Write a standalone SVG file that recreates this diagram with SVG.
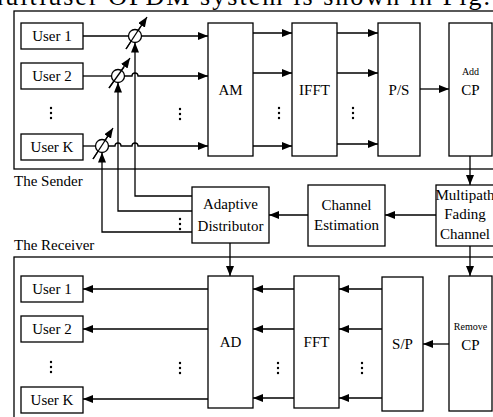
<svg xmlns="http://www.w3.org/2000/svg" width="493" height="417" viewBox="0 0 493 417" font-family="'Liberation Serif', 'Times New Roman', serif">
  <defs>
    <marker id="arr" viewBox="0 0 10 8" refX="10" refY="4" markerWidth="10" markerHeight="8" markerUnits="userSpaceOnUse" orient="auto">
      <path d="M0,0 L10,4 L0,8 Z" fill="#000"/>
    </marker>
    <g id="vdots">
      <circle cx="0" cy="0" r="1.2"/>
      <circle cx="0" cy="5" r="1.2"/>
      <circle cx="0" cy="10" r="1.2"/>
    </g>
  </defs>
  <style>
    .box { fill: #fff; stroke: #000; stroke-width: 1.3; }
    .frame { fill: none; stroke: #000; stroke-width: 1.3; }
    .ln { fill: none; stroke: #000; stroke-width: 1.3; }
    .ar { fill: none; stroke: #000; stroke-width: 1.3; marker-end: url(#arr); }
    text { font-family: 'Liberation Serif', 'Times New Roman', serif; fill: #000; }
    .lbl { font-size: 15px; text-anchor: middle; }
    .sm { font-size: 10px; text-anchor: middle; }
    .cap { font-size: 15px; }
    .run { font-size: 26px; }
  </style>

  <rect width="493" height="417" fill="#fff"/>

  <!-- running text line above the figure, mostly outside the frame -->
  <text class="run" x="-17" y="5" textLength="507" lengthAdjust="spacing">multiuser OFDM system is shown in Fig.</text>

  <!-- section frames -->
  <rect class="frame" x="14" y="11" width="500" height="158"/>
  <text class="cap" x="14" y="186">The Sender</text>
  <rect class="frame" x="14" y="257" width="500" height="180"/>
  <text class="cap" x="14" y="250">The Receiver</text>

  <!-- connectors -->
  <g id="connectors">
    <!-- sender user lines into AM (with hops over the control lines) -->
    <line class="ln" x1="83" y1="36" x2="128.5" y2="36"/>
    <line class="ar" x1="141.5" y1="36" x2="208" y2="36"/>
    <line class="ln" x1="83" y1="76" x2="111.5" y2="76"/>
    <path class="ar" d="M124.5,76 H132 A3,3 0 0 1 138,76 H208"/>
    <line class="ln" x1="83" y1="146" x2="95.5" y2="146"/>
    <path class="ar" d="M108.5,146 H115 A3,3 0 0 1 121,146 H132 A3,3 0 0 1 138,146 H208"/>

    <!-- phase shifter adjustment arrows -->
    <line class="ar" x1="126" y1="49" x2="147" y2="17"/>
    <line class="ar" x1="109" y1="88" x2="130" y2="58"/>
    <line class="ar" x1="93" y1="159" x2="113" y2="128"/>

    <!-- control lines from the adaptive distributor -->
    <path class="ar" d="M192,196 H135 V42.5"/>
    <path class="ar" d="M192,211 H118 V82.5"/>
    <path class="ar" d="M192,232 H102 V152.5"/>

    <!-- AM -> IFFT -> P/S -> Add CP -->
    <line class="ar" x1="253" y1="33" x2="292" y2="33"/>
    <line class="ar" x1="253" y1="73" x2="292" y2="73"/>
    <line class="ar" x1="253" y1="146" x2="292" y2="146"/>
    <line class="ar" x1="337" y1="33" x2="378" y2="33"/>
    <line class="ar" x1="337" y1="73" x2="378" y2="73"/>
    <line class="ar" x1="337" y1="144" x2="378" y2="144"/>
    <line class="ar" x1="420" y1="89" x2="449" y2="89"/>

    <!-- Add CP -> channel -> estimation -> distributor -->
    <line class="ar" x1="470" y1="156" x2="470" y2="185"/>
    <line class="ar" x1="436" y1="215" x2="385" y2="215"/>
    <line class="ar" x1="308" y1="215" x2="269" y2="215"/>
    <line class="ar" x1="230" y1="243" x2="230" y2="276"/>
    <line class="ar" x1="470" y1="246" x2="470" y2="276"/>

    <!-- receiver chain -->
    <line class="ar" x1="449" y1="344" x2="423" y2="344"/>
    <line class="ar" x1="382" y1="289" x2="339" y2="289"/>
    <line class="ar" x1="382" y1="329" x2="339" y2="329"/>
    <line class="ar" x1="382" y1="398" x2="339" y2="398"/>
    <line class="ar" x1="294" y1="289" x2="253" y2="289"/>
    <line class="ar" x1="294" y1="329" x2="253" y2="329"/>
    <line class="ar" x1="294" y1="398" x2="253" y2="398"/>
    <line class="ar" x1="208" y1="289" x2="83" y2="289"/>
    <line class="ar" x1="208" y1="329" x2="83" y2="329"/>
    <line class="ar" x1="208" y1="399" x2="83" y2="399"/>
  </g>

  <!-- phase shifters -->
  <g id="shifter-1"><circle class="box" cx="135" cy="36" r="6.5"/><line class="ln" x1="126" y1="49" x2="141" y2="26"/></g>
  <g id="shifter-2"><circle class="box" cx="118" cy="76" r="6.5"/><line class="ln" x1="109" y1="88" x2="124" y2="67"/></g>
  <g id="shifter-k"><circle class="box" cx="102" cy="146" r="6.5"/><line class="ln" x1="93" y1="159" x2="108" y2="136"/></g>

  <!-- sender nodes -->
  <g id="tx-user-1"><rect class="box" x="21" y="23" width="62" height="26"/><text class="lbl" x="52" y="41">User 1</text></g>
  <g id="tx-user-2"><rect class="box" x="21" y="63" width="62" height="26"/><text class="lbl" x="52" y="81">User 2</text></g>
  <g id="tx-user-k"><rect class="box" x="21" y="134" width="62" height="26"/><text class="lbl" x="52" y="152">User K</text></g>
  <g id="am"><rect class="box" x="208" y="23" width="45" height="133"/><text class="lbl" x="230.5" y="95">AM</text></g>
  <g id="ifft"><rect class="box" x="292" y="23" width="45" height="133"/><text class="lbl" x="314.5" y="95">IFFT</text></g>
  <g id="ps"><rect class="box" x="378" y="23" width="42" height="133"/><text class="lbl" x="399" y="95">P/S</text></g>
  <g id="add-cp"><rect class="box" x="449" y="23" width="43" height="133"/><text class="sm" x="470.5" y="75">Add</text><text class="lbl" x="470.5" y="95">CP</text></g>

  <!-- middle nodes -->
  <g id="adaptive-distributor"><rect class="box" x="192" y="187" width="77" height="56"/><text class="lbl" x="230.5" y="209">Adaptive</text><text class="lbl" x="230.5" y="231">Distributor</text></g>
  <g id="channel-estimation"><rect class="box" x="308" y="185" width="77" height="61"/><text class="lbl" x="346.5" y="210">Channel</text><text class="lbl" x="346.5" y="230">Estimation</text></g>
  <g id="multipath-channel"><rect class="box" x="436" y="185" width="62" height="61"/><text class="lbl" x="465" y="200">Multipath</text><text class="lbl" x="465" y="219">Fading</text><text class="lbl" x="465" y="239">Channel</text></g>

  <!-- receiver nodes -->
  <g id="rx-user-1"><rect class="box" x="21" y="276" width="62" height="26"/><text class="lbl" x="52" y="294">User 1</text></g>
  <g id="rx-user-2"><rect class="box" x="21" y="316" width="62" height="26"/><text class="lbl" x="52" y="334">User 2</text></g>
  <g id="rx-user-k"><rect class="box" x="21" y="387" width="62" height="26"/><text class="lbl" x="52" y="405">User K</text></g>
  <g id="ad"><rect class="box" x="208" y="276" width="45" height="132"/><text class="lbl" x="230.5" y="347">AD</text></g>
  <g id="fft"><rect class="box" x="294" y="276" width="45" height="132"/><text class="lbl" x="316.5" y="347">FFT</text></g>
  <g id="sp"><rect class="box" x="382" y="277" width="41" height="134"/><text class="lbl" x="402.5" y="349">S/P</text></g>
  <g id="remove-cp"><rect class="box" x="449" y="276" width="43" height="135"/><text class="sm" x="470.5" y="330">Remove</text><text class="lbl" x="470.5" y="350">CP</text></g>

  <!-- ellipses marking the omitted users / subcarriers -->
  <g id="ellipses">
    <use href="#vdots" x="51" y="108"/>
    <use href="#vdots" x="180" y="109"/>
    <use href="#vdots" x="279" y="108"/>
    <use href="#vdots" x="353" y="108"/>
    <use href="#vdots" x="180" y="219"/>
    <use href="#vdots" x="51" y="362"/>
    <use href="#vdots" x="180" y="363"/>
    <use href="#vdots" x="278" y="363"/>
    <use href="#vdots" x="362" y="363"/>
  </g>
</svg>
